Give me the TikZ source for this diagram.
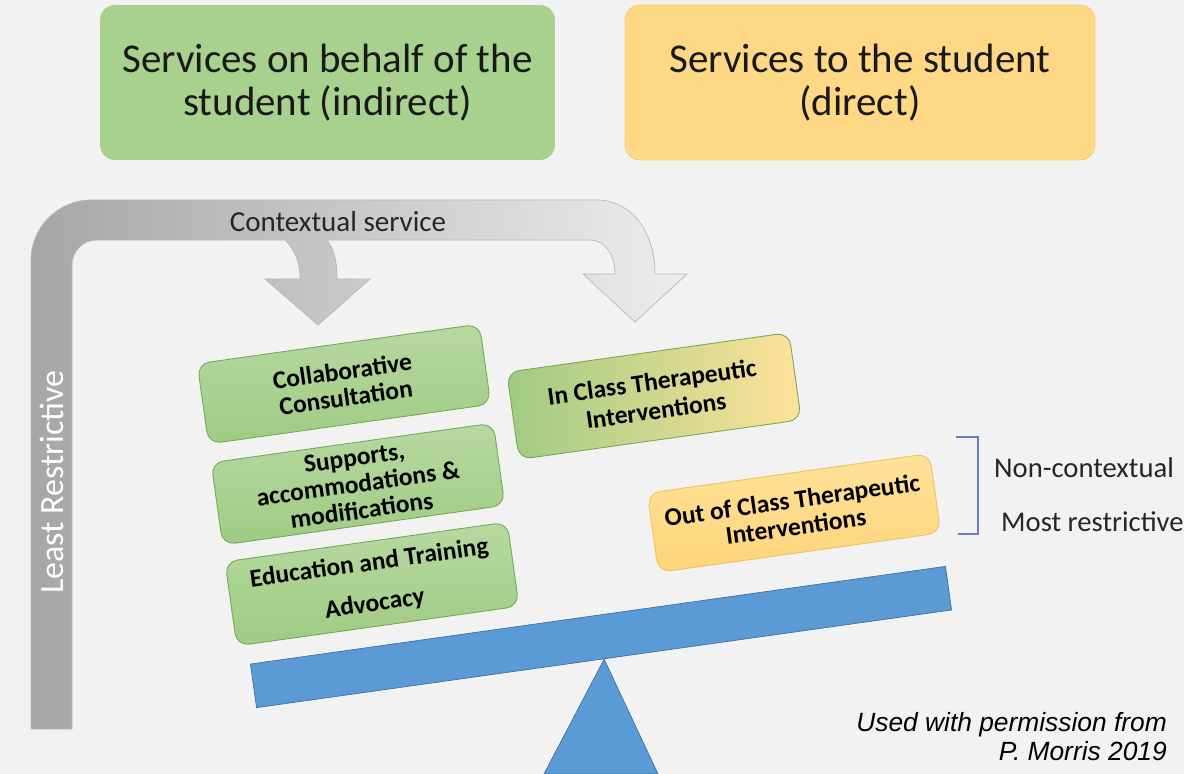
\documentclass[tikz,border=0pt]{standalone}
\usepackage{fontspec}
\setmainfont{Carlito}
\newfontfamily\creditfont{Liberation Sans}

\definecolor{pagegray}{HTML}{F2F2F2}
\definecolor{titlegreen}{HTML}{A9D18E}
\definecolor{titleorange}{HTML}{FFD886}
\definecolor{titleorangeline}{HTML}{F6CB6A}
\definecolor{greentop}{HTML}{B6D9A0}
\definecolor{greenbot}{HTML}{9FCB83}
\definecolor{greenline}{HTML}{76A85A}
\definecolor{yellowtop}{HTML}{FFE29A}
\definecolor{yellowbot}{HTML}{FFD47A}
\definecolor{yellowline}{HTML}{EFC25E}
\definecolor{beamblue}{HTML}{5B9BD5}
\definecolor{beamline}{HTML}{41719C}
\definecolor{banddark}{HTML}{A6A6A6}
\definecolor{bandlight}{HTML}{EDEDED}
\definecolor{bracketblue}{HTML}{6A7CC0}

\tikzset{
  titlebox/.style={rounded corners=0.3cm,minimum height=3.1cm,align=center,
    font=\fontsize{23.3}{24.5}\selectfont,text=black!90},
  svcbox/.style={rotate=8,rounded corners=0.25cm,minimum width=5.7cm,
    minimum height=1.62cm,align=center,line width=0.5pt,inner sep=2pt,
    font=\bfseries\fontsize{14.5}{15.2}\selectfont},
  indirect/.style={svcbox,draw=greenline,top color=greentop,bottom color=greenbot},
  direct/.style={svcbox,draw=yellowline,top color=yellowtop,bottom color=yellowbot},
  sidelabel/.style={anchor=west,font=\fontsize{16.3}{18}\selectfont,text=black!85}
}

\begin{document}
\begin{tikzpicture}[x=0.02cm,y=-0.02cm]
\useasboundingbox (0,0) rectangle (1184,774);
\fill[pagegray] (0,0) rectangle (1184,774);

% headings
\node[titlebox,fill=titlegreen,minimum width=9.1cm] (indirhead) at (327.5,82.5)
  {Services on behalf of the\\student (indirect)};
\node[titlebox,fill=titleorange,draw=titleorangeline,minimum width=9.4cm] (dirhead) at (860,82.5)
  {Services to the student\\(direct)};

% grey bent band with the two down arrows
\path[draw=gray!55,line width=0.4pt,left color=banddark,right color=bandlight]
  (31,729) -- (31,260) .. controls (31,227) and (58,200) .. (91,200)
  -- (597,200) .. controls (630,200) and (655,230) .. (655,274)
  -- (687,274) -- (635,322) -- (583,274) -- (615,274)
  .. controls (615,255) and (605,240) .. (590,240)
  -- (327,240) .. controls (333,248) and (337,258) .. (337,279)
  -- (370,279) -- (318,325) -- (265,279) -- (300,279)
  .. controls (300,262) and (295,250) .. (285,240)
  -- (97,240) .. controls (83,240) and (72,251) .. (72,265)
  -- (72,729) -- cycle;
\node[font=\fontsize{16.5}{18}\selectfont,text=black!85] (ctx) at (338,222) {Contextual service};
\node[rotate=90,text=white,font=\fontsize{19.3}{21}\selectfont] (least) at (52,482) {Least Restrictive};

% service boxes
\node[indirect] (collab) at (344,384) {Collaborative\\Consultation};
\node[indirect,minimum height=1.66cm] (supp) at (358,484) {Supports,\\accommodations \&\\modifications};
\node[indirect,minimum height=1.7cm] (educ) at (372,584) {Education and Training\\[8pt]Advocacy};
\node[svcbox,draw=greenline,left color=greenbot,right color=yellowtop,minimum height=1.76cm,
  font=\bfseries\fontsize{14.5}{16.5}\selectfont] (inclass) at (654,396)
  {In Class Therapeutic\\Interventions};
\node[direct,minimum height=1.6cm] (outclass) at (794,513) {Out of Class Therapeutic\\Interventions};

% bracket and side labels
\draw[bracketblue,line width=0.6pt] (956,437) -- (978,437) -- (978,534) -- (958,534);
\node[sidelabel] (noncontext) at (988,468) {Non-contextual};
\node[sidelabel] (mostrestr) at (995,522) {Most restrictive};

% seesaw
\node[rotate=8,minimum width=14.04cm,minimum height=0.88cm,inner sep=0pt,
  fill=beamblue,draw=beamline,line width=0.4pt] (beam) at (601,637) {};
\filldraw[fill=beamblue,draw=beamline,line width=0.4pt] (beam.south) -- (658,774) -- (544,774) -- cycle;

\node[anchor=east,align=right,font=\creditfont\itshape\fontsize{15}{16.5}\selectfont] (credit) at (1173,737)
  {Used with permission from\\P. Morris 2019};
\end{tikzpicture}
\end{document}
